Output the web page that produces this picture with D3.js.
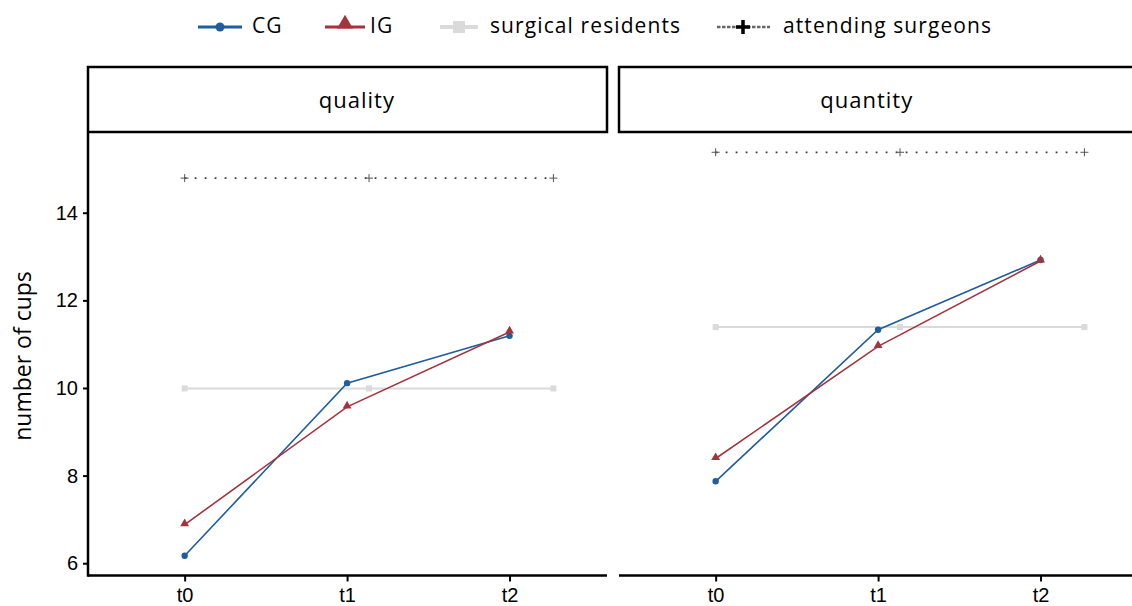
<!DOCTYPE html>
<html>
<head>
<meta charset="utf-8">
<script src="https://cdn.jsdelivr.net/npm/d3@7"></script>
<style>
  body { margin: 0; background: #fff; }
  svg { display: block; font-family: 'Open Sans', sans-serif; }
  .tick text { font-family: 'Liberation Sans', Arial, sans-serif; }
</style>
</head>
<body>
<div id="chart"></div>
<script>
// Дані
const timepoints = ['t0', 't1', 't2']
const panels = ['quality', 'quantity']
const cgQuality = [6.17, 10.11, 11.19]
const igQuality = [6.88, 9.57, 11.28]
const cgQuantity = [7.87, 11.33, 12.92]
const igQuantity = [8.39, 10.95, 12.9]
const residentsLevel = [9.99, 11.39]   // surgical residents, по панелях
const attendingLevel = [14.79, 15.38]  // attending surgeons, по панелях
const refPositions = [0, 1.135, 2.27]  // x-позиції опорних ліній
const yTicks = [6, 8, 10, 12, 14]
const legendLabels = ['CG', 'IG', 'surgical residents', 'attending surgeons']

const cgColor = '#1f5d9c'
const igColor = '#a3343d'
const resColor = '#dadada'
const attColor = '#3a3a3a'

const W = 1132
const H = 606
const panelW = 519
const panelX = [88, 619]
const stripTop = 67
const plotTop = 133
const plotBottom = 575.5
const stripLabelX = [1.06, 0.93]

const svg = d3.select('#chart')
  .append('svg')
  .attr('width', W)
  .attr('height', H)

const x = d3.scaleLinear().domain([-0.595, 2.6]).range([0, panelW])
const y = d3.scaleLinear().domain([5.72, 15.82]).range([plotBottom, plotTop])

const seriesByPanel = [
  { cg: cgQuality, ig: igQuality },
  { cg: cgQuantity, ig: igQuantity }
]

const line = d3.line().x(d => x(d[0])).y(d => y(d[1]))
const tri = d3.symbol().type(d3.symbolTriangle).size(34)
// хрестик із двох штрихів
const plus = s => `M${-s},0H${s}M0,${-s}V${s}`

panels.forEach((name, p) => {
  const g = svg.append('g').attr('transform', `translate(${panelX[p]},0)`)

  // Заголовок панелі (strip)
  g.append('rect')
    .attr('x', 0)
    .attr('y', stripTop)
    .attr('width', panelW)
    .attr('height', plotTop - stripTop - 1)
    .attr('fill', 'none')
    .attr('stroke', '#000')
    .attr('stroke-width', 2.5)

  g.append('text')
    .attr('x', x(stripLabelX[p]))
    .attr('y', 108)
    .attr('text-anchor', 'middle')
    .style('font-size', '22px')
    .style('letter-spacing', '1px')
    .text(name)

  // Вісь X
  const xAxis = g.append('g')
    .attr('transform', `translate(0,${plotBottom})`)
    .call(d3.axisBottom(x).tickValues([0, 1, 2]).tickFormat(i => timepoints[i]).tickSize(6).tickPadding(6))
  xAxis.select('.domain').remove()
  xAxis.selectAll('.tick line').attr('stroke-width', 2)
  xAxis.selectAll('.tick text').style('font-size', '20px').attr('fill', '#000')
  g.append('line')
    .attr('x1', 0).attr('x2', panelW)
    .attr('y1', plotBottom).attr('y2', plotBottom)
    .attr('stroke', '#000').attr('stroke-width', 2.5)

  // Вісь Y лише для першої панелі
  if (p === 0) {
    const yAxis = g.append('g')
      .call(d3.axisLeft(y).tickValues(yTicks).tickSize(5).tickPadding(5))
    yAxis.select('.domain').remove()
    yAxis.selectAll('.tick line').attr('stroke-width', 2)
    yAxis.selectAll('.tick text').style('font-size', '20px').attr('fill', '#000')
    g.append('line')
      .attr('x1', 0).attr('x2', 0)
      .attr('y1', plotTop).attr('y2', plotBottom + 1.2)
      .attr('stroke', '#000').attr('stroke-width', 2.5)
  }

  // surgical residents
  const resPts = refPositions.map(v => [v, residentsLevel[p]])
  g.append('path')
    .attr('d', line(resPts))
    .attr('fill', 'none')
    .attr('stroke', resColor)
    .attr('stroke-width', 2)
  g.selectAll('.res-pt')
    .data(resPts)
    .enter()
    .append('rect')
    .attr('x', d => x(d[0]) - 3)
    .attr('y', d => y(d[1]) - 3)
    .attr('width', 6)
    .attr('height', 6)
    .attr('fill', resColor)

  // attending surgeons
  const attPts = refPositions.map(v => [v, attendingLevel[p]])
  g.append('path')
    .attr('d', line(attPts))
    .attr('fill', 'none')
    .attr('stroke', attColor)
    .attr('stroke-width', 1.8)
    .attr('stroke-dasharray', '1.8,8.2')
  g.selectAll('.att-pt')
    .data(attPts)
    .enter()
    .append('path')
    .attr('d', plus(4))
    .attr('transform', d => `translate(${x(d[0])},${y(d[1])})`)
    .attr('fill', 'none')
    .attr('stroke', '#555')
    .attr('stroke-width', 1)

  // CG та IG
  const cgPts = seriesByPanel[p].cg.map((v, i) => [i, v])
  const igPts = seriesByPanel[p].ig.map((v, i) => [i, v])

  g.append('path')
    .attr('d', line(cgPts))
    .attr('fill', 'none')
    .attr('stroke', cgColor)
    .attr('stroke-width', 1.6)
  g.selectAll('.cg-pt')
    .data(cgPts)
    .enter()
    .append('circle')
    .attr('cx', d => x(d[0]))
    .attr('cy', d => y(d[1]))
    .attr('r', 3.2)
    .attr('fill', cgColor)

  g.append('path')
    .attr('d', line(igPts))
    .attr('fill', 'none')
    .attr('stroke', igColor)
    .attr('stroke-width', 1.6)
  g.selectAll('.ig-pt')
    .data(igPts)
    .enter()
    .append('path')
    .attr('d', tri())
    .attr('transform', d => `translate(${x(d[0])},${y(d[1]) - 1})`)
    .attr('fill', igColor)
})

// Підпис осі Y
svg.append('text')
  .attr('transform', 'translate(31,356) rotate(-90)')
  .attr('text-anchor', 'middle')
  .style('font-size', '23px')
  .text('number of cups')

// Легенда
const legendX = [198, 325, 440, 717]
const legend = svg.append('g')
legendLabels.forEach((lab, i) => {
  const lx = legendX[i]
  const row = legend.append('g').attr('transform', `translate(${lx},27)`)
  if (i === 0) {
    row.append('line').attr('x1', 0).attr('x2', 44).attr('stroke', cgColor).attr('stroke-width', 3)
    row.append('circle').attr('cx', 22).attr('r', 4.5).attr('fill', cgColor)
  } else if (i === 1) {
    row.append('line').attr('x1', 0).attr('x2', 40).attr('stroke', igColor).attr('stroke-width', 3)
    row.append('path').attr('d', d3.symbol().type(d3.symbolTriangle).size(110)()).attr('transform', 'translate(20,-3)').attr('fill', igColor)
  } else if (i === 2) {
    row.append('line').attr('x1', 0).attr('x2', 38).attr('stroke', resColor).attr('stroke-width', 4)
    row.append('rect').attr('x', 13).attr('y', -6).attr('width', 12).attr('height', 12).attr('fill', resColor)
  } else {
    row.append('line').attr('x1', 0).attr('x2', 53).attr('stroke', '#666').attr('stroke-width', 2.5).attr('stroke-dasharray', '3.5,1.5')
    row.append('path').attr('d', plus(7)).attr('transform', 'translate(26,0)').attr('fill', 'none').attr('stroke', '#000').attr('stroke-width', 3.5)
  }
  const textX = [54, 45, 50, 66][i]
  row.append('text')
    .attr('x', textX)
    .attr('y', 6)
    .style('font-size', '21px')
    .style('letter-spacing', '1.1px')
    .text(lab)
})
</script>
</body>
</html>
